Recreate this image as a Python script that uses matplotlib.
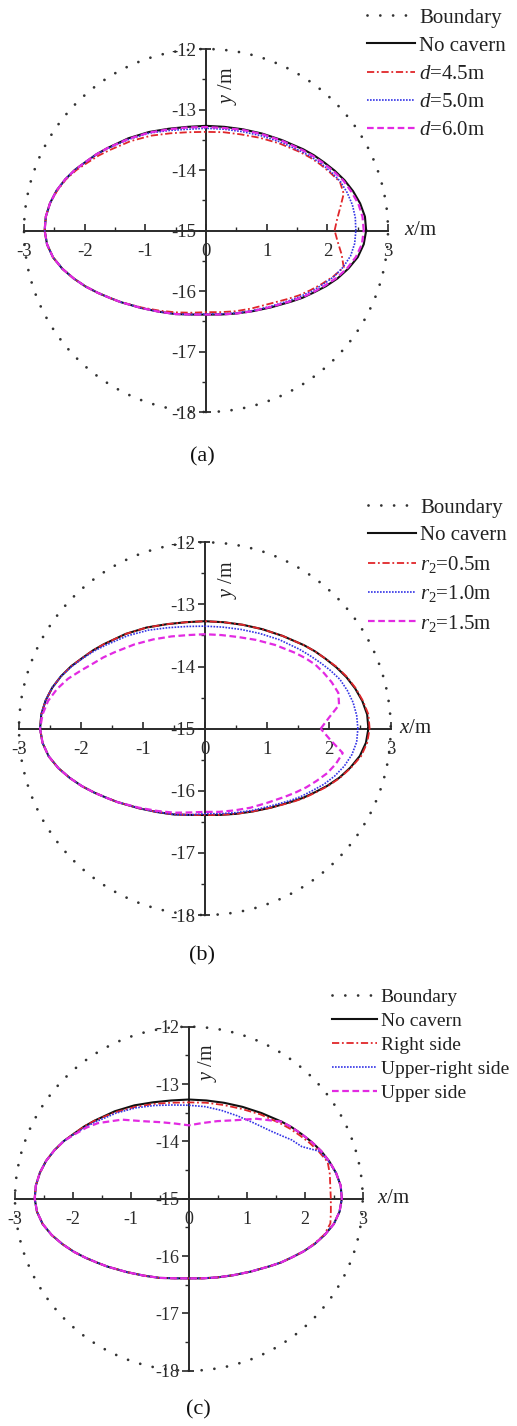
import numpy as np
import matplotlib
matplotlib.use("Agg")
import matplotlib.pyplot as plt
from matplotlib.patches import Circle
from matplotlib.lines import Line2D
from matplotlib.ticker import MultipleLocator

plt.rcParams['font.family'] = ['Liberation Serif', 'DejaVu Serif']
plt.rcParams['mathtext.fontset'] = 'custom'
plt.rcParams['mathtext.rm'] = 'Liberation Serif'
plt.rcParams['mathtext.it'] = 'Liberation Serif:italic'
plt.rcParams['axes.unicode_minus'] = False

W, H = 517, 1426

# ---------------------------------------------------------------------------
# Plastic-zone contours, given as radius (m) from the tunnel centre
# (0, -15) at polar angles (deg) measured anticlockwise from the +x axis.
# Sampling is denser near the left/right ends where the contour bends fast.
# ---------------------------------------------------------------------------
ANGLES = [0, 5, 10, 15, 20, 25, 30, 35, 40,
          50, 60, 70, 80, 90, 100, 110, 120, 130,
          140, 145, 150, 155, 160, 165, 170, 175, 180, 185, 190, 195, 200, 205, 210, 215, 220,
          230, 240, 250, 260, 270, 280, 290, 300, 310,
          320, 325, 330, 335, 340, 345, 350, 355]
CENTER_Y = -15.0
BOUNDARY_R = 3.0

NO_CAVERN = [2.64, 2.63, 2.58, 2.51, 2.43, 2.34, 2.25, 2.17, 2.09,
             1.95, 1.85, 1.78, 1.74, 1.73, 1.74, 1.79, 1.88, 1.99,
             2.12, 2.20, 2.28, 2.38, 2.47, 2.55, 2.61, 2.65, 2.66, 2.63, 2.56, 2.45, 2.32, 2.19, 2.06, 1.94, 1.84,
             1.67, 1.55, 1.47, 1.41, 1.39, 1.41, 1.46, 1.54, 1.66,
             1.83, 1.94, 2.05, 2.18, 2.31, 2.43, 2.54, 2.61]

# (a) cavern distance d
D_45 = [2.12, 2.17, 2.25, 2.35, 2.35, 2.26, 2.18, 2.10, 2.02,
        1.88, 1.77, 1.69, 1.65, 1.63, 1.65, 1.71, 1.81, 1.93,
        2.07, 2.16, 2.25, 2.36, 2.46, 2.54, 2.61, 2.65, 2.66, 2.63, 2.56, 2.45, 2.32, 2.19, 2.06, 1.94, 1.84,
        1.66, 1.53, 1.44, 1.38, 1.35, 1.37, 1.42, 1.49, 1.59,
        1.76, 1.87, 1.98, 2.10, 2.23, 2.35, 2.27, 2.18]
D_50 = [2.47, 2.47, 2.45, 2.41, 2.36, 2.28, 2.20, 2.12, 2.04,
        1.91, 1.81, 1.74, 1.70, 1.69, 1.70, 1.76, 1.86, 1.97,
        2.11, 2.20, 2.28, 2.38, 2.47, 2.55, 2.61, 2.65, 2.66, 2.63, 2.56, 2.45, 2.32, 2.19, 2.06, 1.94, 1.84,
        1.67, 1.55, 1.47, 1.41, 1.38, 1.40, 1.45, 1.53, 1.64,
        1.80, 1.90, 2.01, 2.12, 2.24, 2.34, 2.42, 2.46]
D_60 = [2.60, 2.59, 2.55, 2.48, 2.41, 2.32, 2.23, 2.15, 2.07,
        1.94, 1.84, 1.77, 1.72, 1.71, 1.73, 1.78, 1.87, 1.98,
        2.12, 2.20, 2.28, 2.38, 2.47, 2.55, 2.61, 2.65, 2.66, 2.63, 2.56, 2.45, 2.32, 2.19, 2.06, 1.94, 1.84,
        1.67, 1.55, 1.47, 1.41, 1.39, 1.41, 1.46, 1.54, 1.65,
        1.82, 1.93, 2.04, 2.16, 2.29, 2.41, 2.51, 2.58]

# (b) cavern radius r2
R2_05 = [2.66, 2.65, 2.59, 2.52, 2.44, 2.35, 2.25, 2.17, 2.09,
         1.95, 1.85, 1.78, 1.74, 1.73, 1.74, 1.79, 1.88, 1.99,
         2.12, 2.20, 2.28, 2.38, 2.47, 2.55, 2.61, 2.65, 2.66, 2.63, 2.56, 2.45, 2.32, 2.19, 2.06, 1.94, 1.84,
         1.67, 1.55, 1.47, 1.41, 1.39, 1.41, 1.46, 1.54, 1.66,
         1.84, 1.95, 2.06, 2.19, 2.32, 2.44, 2.56, 2.63]
R2_10 = [2.47, 2.46, 2.43, 2.38, 2.32, 2.23, 2.14, 2.06, 1.99,
         1.87, 1.77, 1.70, 1.66, 1.65, 1.67, 1.73, 1.83, 1.95,
         2.09, 2.18, 2.27, 2.37, 2.47, 2.55, 2.61, 2.65, 2.66, 2.63, 2.56, 2.45, 2.32, 2.19, 2.06, 1.94, 1.84,
         1.67, 1.55, 1.47, 1.41, 1.37, 1.39, 1.44, 1.52, 1.63,
         1.80, 1.90, 2.00, 2.12, 2.23, 2.33, 2.41, 2.46]
R2_15 = [1.87, 2.01, 2.20, 2.23, 2.18, 2.12, 2.06, 1.98, 1.90,
         1.76, 1.65, 1.57, 1.53, 1.52, 1.53, 1.58, 1.66, 1.77,
         1.91, 2.00, 2.09, 2.21, 2.35, 2.47, 2.57, 2.63, 2.66, 2.63, 2.56, 2.45, 2.32, 2.19, 2.06, 1.94, 1.84,
         1.66, 1.53, 1.44, 1.37, 1.34, 1.36, 1.40, 1.47, 1.56,
         1.70, 1.79, 1.89, 1.99, 2.10, 2.19, 2.26, 2.03]

# (c) cavern location
RIGHT_SIDE = [2.45, 2.45, 2.47, 2.48, 2.39, 2.30, 2.21, 2.13, 2.05,
              1.92, 1.81, 1.74, 1.70, 1.68, 1.70, 1.76, 1.85, 1.97,
              2.12, 2.20, 2.28, 2.38, 2.47, 2.55, 2.61, 2.65, 2.66, 2.63, 2.56, 2.45, 2.32, 2.19, 2.06, 1.94, 1.84,
              1.67, 1.55, 1.47, 1.41, 1.39, 1.41, 1.46, 1.54, 1.66,
              1.83, 1.94, 2.05, 2.18, 2.30, 2.42, 2.48, 2.46]
UPPER_RIGHT = [2.64, 2.63, 2.58, 2.50, 2.41, 2.15, 2.05, 1.93, 1.84,
               1.73, 1.67, 1.64, 1.63, 1.63, 1.66, 1.73, 1.83, 1.95,
               2.09, 2.18, 2.27, 2.38, 2.47, 2.55, 2.61, 2.65, 2.66, 2.63, 2.56, 2.45, 2.32, 2.19, 2.06, 1.94, 1.84,
               1.67, 1.55, 1.47, 1.41, 1.39, 1.41, 1.46, 1.54, 1.66,
               1.83, 1.94, 2.05, 2.18, 2.31, 2.43, 2.54, 2.61]
UPPER_SIDE = [2.64, 2.63, 2.58, 2.51, 2.43, 2.34, 2.25, 2.17, 2.09,
              1.82, 1.58, 1.44, 1.34, 1.28, 1.33, 1.42, 1.56, 1.80,
              2.05, 2.16, 2.26, 2.38, 2.47, 2.55, 2.61, 2.65, 2.66, 2.63, 2.56, 2.45, 2.32, 2.19, 2.06, 1.94, 1.84,
              1.67, 1.55, 1.47, 1.41, 1.39, 1.41, 1.46, 1.54, 1.66,
              1.83, 1.94, 2.05, 2.18, 2.31, 2.43, 2.54, 2.61]

LABELS_A = ['Boundary', 'No cavern', r'$d$=4.5m', r'$d$=5.0m', r'$d$=6.0m']
LABELS_B = ['Boundary', 'No cavern', r'$r_{\mathrm{2}}$=0.5m', r'$r_{\mathrm{2}}$=1.0m',
            r'$r_{\mathrm{2}}$=1.5m']
LABELS_C = ['Boundary', 'No cavern', 'Right side', 'Upper-right side', 'Upper side']
PANEL_TAGS = ['(a)', '(b)', '(c)']

X_TICKS = [-3, -2, -1, 0, 1, 2, 3]
Y_TICKS = [-18, -17, -16, -15, -14, -13, -12]

# line styles
AXIS_COLOR = '#2a2a2a'
BOUNDARY_STYLE = dict(color='#333333', linestyle=(0, (0.01, 4.6)), linewidth=2.0)
BASE_STYLE = dict(color='#111111', linestyle='-', linewidth=1.5)
CASE_STYLES = [
    dict(color='#e0262a', linestyle=(0, (4.0, 1.5, 1.0, 1.5)), linewidth=1.3),
    dict(color='#3434e6', linestyle=(0, (1.0, 0.8)), linewidth=1.2),
    dict(color='#e22ae2', linestyle=(0, (3.0, 1.6)), linewidth=1.6),
]


def contour_xy(radii):
    th = np.deg2rad(np.asarray(ANGLES + [ANGLES[0]], dtype=float))
    r = np.asarray(list(radii) + [radii[0]], dtype=float)
    return r * np.cos(th), CENTER_Y + r * np.sin(th)


def make_axes(fig, x_m3, x_p3, y_m12, y_m18, pad=0.35):
    sx = (x_p3 - x_m3) / 6.0
    sy = (y_m18 - y_m12) / 6.0
    left = x_m3 - pad * sx
    right = x_p3 + pad * sx
    top = y_m12 - pad * sy
    bottom = y_m18 + pad * sy
    ax = fig.add_axes([left / W, 1 - bottom / H, (right - left) / W, (bottom - top) / H])
    ax.set_xlim(X_TICKS[0] - pad, X_TICKS[-1] + pad)
    ax.set_ylim(Y_TICKS[0] - pad, Y_TICKS[-1] + pad)
    ax.patch.set_alpha(0)
    return ax


def style_axes(ax, tick_fs, xlab_x, ylab_x, ylab_y):
    for s in ('top', 'right'):
        ax.spines[s].set_visible(False)
    ax.spines['left'].set_position(('data', 0))
    ax.spines['bottom'].set_position(('data', CENTER_Y))
    ax.spines['left'].set_bounds(Y_TICKS[0], Y_TICKS[-1])
    ax.spines['bottom'].set_bounds(X_TICKS[0], X_TICKS[-1])
    for s in ('left', 'bottom'):
        ax.spines[s].set_linewidth(1.4)
        ax.spines[s].set_color(AXIS_COLOR)
    ax.set_xticks(X_TICKS)
    ax.set_yticks(Y_TICKS)
    ax.xaxis.set_minor_locator(MultipleLocator(0.5))
    ax.yaxis.set_minor_locator(MultipleLocator(0.5))
    ax.tick_params(axis='x', which='major', direction='in', length=5, width=1.2,
                   pad=9, labelsize=tick_fs, colors=AXIS_COLOR)
    ax.tick_params(axis='x', which='minor', direction='in', length=3, width=1.0,
                   colors=AXIS_COLOR)
    ax.tick_params(axis='y', which='major', direction='out', length=5, width=1.2,
                   pad=2, labelsize=tick_fs, colors=AXIS_COLOR)
    ax.tick_params(axis='y', which='minor', direction='out', length=3, width=1.0,
                   colors=AXIS_COLOR)
    ax.set_xticklabels([str(v) for v in X_TICKS])
    ax.set_yticklabels([str(v) for v in Y_TICKS])
    # small caps at both ends of the vertical axis
    for yv in (Y_TICKS[0], Y_TICKS[-1]):
        ax.plot([0, 0.09], [yv, yv], color=AXIS_COLOR, lw=1.3, clip_on=False,
                solid_capstyle='butt')
    ax.text(xlab_x, CENTER_Y, r'$x$/m', ha='left', va='center', fontsize=15,
            color='#222222')
    ax.text(ylab_x, ylab_y, r'$y$ /m', ha='center', va='center', rotation=90,
            fontsize=14.5, color='#222222')


def draw_panel(ax, cases, labels, legend_xy, legend_fs, labelspacing, handlelength):
    circ = Circle((0, CENTER_Y), BOUNDARY_R, fill=False, edgecolor=BOUNDARY_STYLE['color'],
                  linestyle=BOUNDARY_STYLE['linestyle'], linewidth=BOUNDARY_STYLE['linewidth'],
                  capstyle='round', clip_on=False, zorder=1)
    ax.add_patch(circ)
    x, y = contour_xy(NO_CAVERN)
    ax.plot(x, y, zorder=3, solid_joinstyle='round', **BASE_STYLE)
    for radii, st in zip(cases, CASE_STYLES):
        x, y = contour_xy(radii)
        ax.plot(x, y, zorder=4, **st)
    handles = [Line2D([], [], dash_capstyle='round', **BOUNDARY_STYLE),
               Line2D([], [], **BASE_STYLE)] + [Line2D([], [], **st) for st in CASE_STYLES]
    ax.legend(handles, labels, loc='upper left',
              bbox_to_anchor=(legend_xy[0] / W, 1 - legend_xy[1] / H),
              bbox_transform=ax.figure.transFigure, frameon=False,
              fontsize=legend_fs, handlelength=handlelength, handletextpad=0.2,
              labelspacing=labelspacing, borderpad=0, borderaxespad=0,
              labelcolor='#222222')


fig = plt.figure(figsize=(W / 100, H / 100), dpi=100)
fig.patch.set_facecolor('white')

# panel (a)
ax_a = make_axes(fig, 24, 388, 49, 412)
draw_panel(ax_a, [D_45, D_50, D_60], LABELS_A, (367, 8), 15, 0.41, 2.3)
style_axes(ax_a, 13.5, 3.27, 0.35, -12.6)

# panel (b)
ax_b = make_axes(fig, 19, 390.7, 542.3, 915)
draw_panel(ax_b, [R2_05, R2_10, R2_15], LABELS_B, (368, 498), 15, 0.40, 2.3)
style_axes(ax_b, 13.5, 3.14, 0.37, -12.6)

# panel (c)
ax_c = make_axes(fig, 15, 362.7, 1026.7, 1370.7)
draw_panel(ax_c, [RIGHT_SIDE, UPPER_RIGHT, UPPER_SIDE], LABELS_C, (332, 988), 14, 0.33, 2.3)
style_axes(ax_c, 13.0, 3.25, 0.32, -12.62)

for tag, (px, py) in zip(PANEL_TAGS, [(202, 457), (202, 956), (198, 1410)]):
    fig.text(px / W, 1 - py / H, tag, ha='center', va='center', fontsize=16, color='#111111')

fig.savefig('out.png', dpi=100, facecolor='white')
